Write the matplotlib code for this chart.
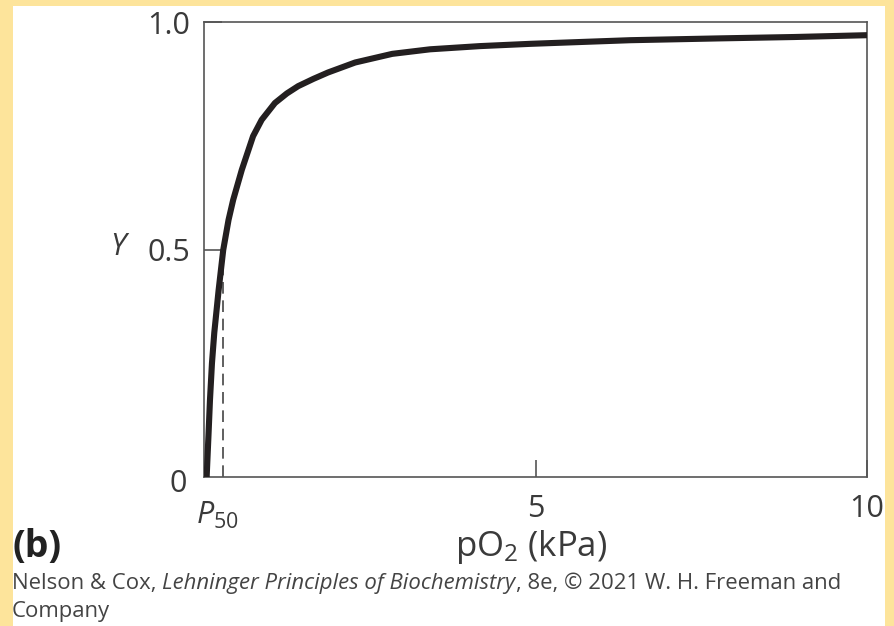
import matplotlib
matplotlib.use("Agg")
import matplotlib.pyplot as plt
from matplotlib.patches import Rectangle

# curve (pO2 in kPa, fractional saturation Y)
po2 = [0.04, 0.07, 0.09, 0.12, 0.155, 0.22, 0.29, 0.37, 0.44, 0.57, 0.74,
       0.87, 1.07, 1.25, 1.42, 1.65, 1.87, 2.28, 2.84, 3.41, 4.16, 4.92,
       5.67, 6.43, 7.78, 8.9, 10.0]
sat = [0.0, 0.10, 0.169, 0.25, 0.317, 0.41, 0.499, 0.565, 0.609, 0.675, 0.749,
       0.785, 0.822, 0.843, 0.859, 0.875, 0.889, 0.911, 0.930, 0.940, 0.947, 0.952,
       0.956, 0.960, 0.964, 0.967, 0.971]
p50 = 0.29
y_ticks = [0.5, 1.0]
y_ticklabels = ["0.5", "1.0"]
x_ticks = [5, 10]
x_ticklabels = ["5", "10"]

W, H = 894, 626
plt.rcParams['font.family'] = ['Open Sans', 'DejaVu Sans']
plt.rcParams['mathtext.fontset'] = 'custom'
plt.rcParams['mathtext.rm'] = 'Open Sans'
plt.rcParams['mathtext.it'] = 'Open Sans:italic'

txt = '#3a3a3a'
axc = '#555555'
fs = 22

fig = plt.figure(figsize=(W / 100, H / 100), dpi=100)
fig.patch.set_facecolor('#fde49b')


def px(x, y):
    return x / W, 1 - y / H


# white panel
fig.patches.append(Rectangle(px(13, 626), (885 - 13) / W, (626 - 6) / H,
                             transform=fig.transFigure, facecolor='white',
                             edgecolor='none', zorder=-5))

left, right, top, bottom = 204, 867, 22, 477
ax = fig.add_axes([left / W, 1 - bottom / H, (right - left) / W, (bottom - top) / H])
ax.set_zorder(2)
ax.set_xlim(0, 10)
ax.set_ylim(0, 1)

ax.plot([p50, p50], [0, 0.5], color='#444444', lw=1.2, dashes=(7, 4), zorder=1)
ax.plot(po2, sat, color='#231f20', lw=4.4, solid_capstyle='butt',
        solid_joinstyle='round', zorder=3)

for s in ax.spines.values():
    s.set_color(axc)
    s.set_linewidth(1.2)

ax.set_yticks(y_ticks)
ax.set_yticklabels(y_ticklabels)
ax.set_xticks(x_ticks)
ax.set_xticklabels(x_ticklabels)
ax.tick_params(axis='y', direction='in', length=13, width=1.2, color=axc,
               labelsize=fs, labelcolor=txt, pad=10)
ax.tick_params(axis='x', direction='in', length=12, width=1.2, color=axc,
               labelsize=fs, labelcolor=txt, pad=12)

fig.text(*px(178, 484), '0', fontsize=fs, color=txt, ha='center', va='center')
fig.text(*px(217, 515), '$P_{50}$', fontsize=fs, color=txt, ha='center', va='center')
fig.text(*px(118, 247), 'Y', fontsize=fs, color=txt, ha='center', va='center',
         style='italic')
fig.text(*px(531, 547), 'pO$_2$ (kPa)', fontsize=25, color=txt, ha='center', va='center')
fig.text(*px(12, 547), '(b)', fontsize=27, color='#222222', ha='left', va='center',
         fontweight='bold')

# caption, with the book title in italics
parts = [("Nelson & Cox, ", 'normal'),
         ("Lehninger Principles of Biochemistry", 'italic'),
         (", 8e, \u00a9 2021 W. H. Freeman and", 'normal')]
renderer = fig.canvas.get_renderer()
x0 = 12
for s, st in parts:
    t = fig.text(*px(x0, 583), s, fontsize=15.9, color='#444444', ha='left',
                 va='center', style=st)
    bb = t.get_window_extent(renderer)
    x0 += bb.width
fig.text(*px(12, 612), 'Company', fontsize=15.9, color='#444444', ha='left', va='center')

fig.savefig('out.png', dpi=100)
